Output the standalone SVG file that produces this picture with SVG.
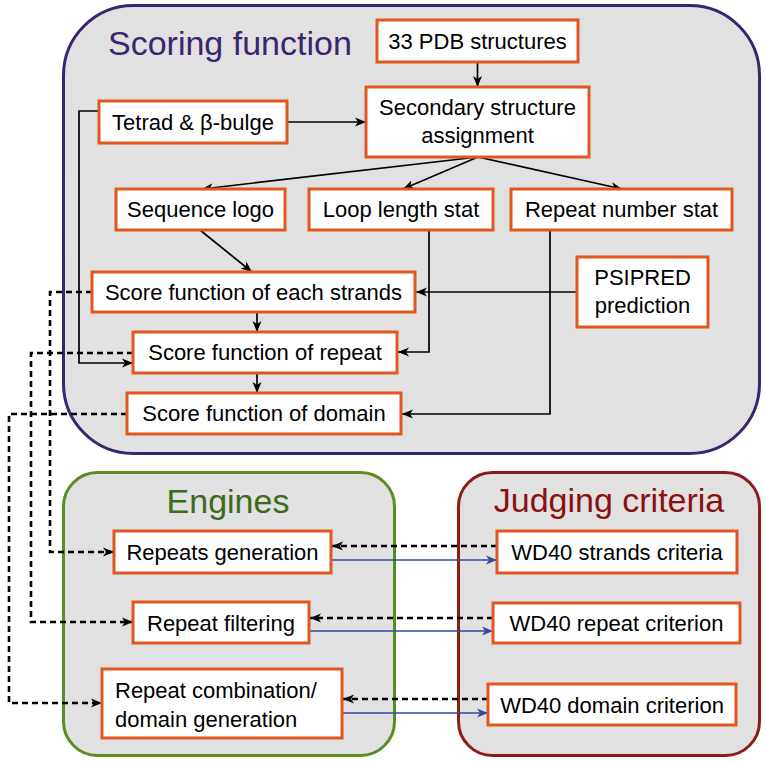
<svg xmlns="http://www.w3.org/2000/svg" width="766" height="762" viewBox="0 0 766 762">
<defs>
<marker id="ah" markerUnits="userSpaceOnUse" markerWidth="12" markerHeight="10" refX="11" refY="5" orient="auto">
<path d="M0,0.5 L11,5 L0,9.5 L3,5 z" fill="#000"/>
</marker>
<marker id="ahb" markerUnits="userSpaceOnUse" markerWidth="12" markerHeight="10" refX="11" refY="5" orient="auto">
<path d="M0,0.5 L11,5 L0,9.5 L3,5 z" fill="#2b4d9b"/>
</marker>
</defs>
<style>
.panel{fill:#e1e1e1;stroke-width:3}
.box{fill:#fff;stroke:#e2571e;stroke-width:3}
.t{font-family:"Liberation Sans",Arial,sans-serif;font-size:22px;fill:#000;text-anchor:middle}
.title{font-family:"Liberation Sans",Arial,sans-serif;font-size:34px}
.s{fill:none;stroke:#000;stroke-width:1.7;marker-end:url(#ah)}
.d{fill:none;stroke:#000;stroke-width:2.6;stroke-dasharray:6 4;marker-end:url(#ah)}
.b{fill:none;stroke:#2b4d9b;stroke-width:1.6;marker-end:url(#ahb)}
</style>
<rect width="766" height="762" fill="#fff"/>
<g id="panel-scoring">
<rect class="panel" x="63.5" y="5.5" width="696" height="448" rx="70" ry="70" stroke="#3b2470"/>
<text class="title" x="108" y="55" fill="#3b2470">Scoring function</text>
</g>
<g id="panel-engines">
<rect class="panel" x="63.5" y="472.5" width="331" height="283" rx="34" ry="34" stroke="#5b8c25"/>
<text class="title" x="228" y="513" fill="#3d6b1a" text-anchor="middle" font-size="33">Engines</text>
</g>
<g id="panel-judging">
<rect class="panel" x="458.5" y="472.5" width="301" height="283" rx="34" ry="34" stroke="#8b1c1c"/>
<text class="title" x="609" y="512" fill="#8b1010" text-anchor="middle">Judging criteria</text>
</g>
<g id="connectors">
<path class="s" d="M477.5,62 V87"/>
<path class="s" d="M287,122 H366"/>
<path class="s" d="M478,157 L202,189"/>
<path class="s" d="M478,157 L403,189"/>
<path class="s" d="M478,157 L622,189"/>
<path class="s" d="M200,230 L252,272"/>
<path class="s" d="M257,312 V332"/>
<path class="s" d="M257,373 V393"/>
<path class="s" d="M429,230 V352 H398"/>
<path class="s" d="M550,230 V414 H402"/>
<path class="s" d="M577,292 H416"/>
<path class="s" d="M99,111 H79 V363 H133"/>
<path class="d" d="M92,292 H50 V552 H114"/>
<path class="d" d="M133,353 H31 V622 H133"/>
<path class="d" d="M127,414 H9 V703 H102"/>
<path class="d" d="M497,546 H332"/>
<path class="d" d="M493,618 H310"/>
<path class="d" d="M488,699 H343"/>
<path class="b" d="M331,560 H497"/>
<path class="b" d="M309,631 H493"/>
<path class="b" d="M342,713 H488"/>
</g>
<g id="n-pdb">
<rect class="box" x="377" y="20" width="201" height="42"/>
<text class="t" x="477.5" y="49">33 PDB structures</text>
</g>
<g id="n-ssa">
<rect class="box" x="366" y="87" width="223" height="70"/>
<text class="t" x="477.5" y="115">Secondary structure</text>
<text class="t" x="477.5" y="143">assignment</text>
</g>
<g id="n-tetrad">
<rect class="box" x="99" y="101" width="188" height="42"/>
<text class="t" x="193" y="130">Tetrad &amp; β-bulge</text>
</g>
<g id="n-logo">
<rect class="box" x="116" y="189" width="169" height="41"/>
<text class="t" x="200.5" y="217">Sequence logo</text>
</g>
<g id="n-loop">
<rect class="box" x="309" y="189" width="184" height="41"/>
<text class="t" x="401" y="217">Loop length stat</text>
</g>
<g id="n-repnum">
<rect class="box" x="511" y="189" width="221" height="41"/>
<text class="t" x="621.5" y="217">Repeat number stat</text>
</g>
<g id="n-psipred">
<rect class="box" x="577" y="257" width="131" height="70"/>
<text class="t" x="642.5" y="285">PSIPRED</text>
<text class="t" x="642.5" y="313">prediction</text>
</g>
<g id="n-sf-strands">
<rect class="box" x="92" y="272" width="323" height="40"/>
<text class="t" x="253.5" y="300">Score function of each strands</text>
</g>
<g id="n-sf-repeat">
<rect class="box" x="133" y="332" width="264" height="41"/>
<text class="t" x="265" y="360">Score function of repeat</text>
</g>
<g id="n-sf-domain">
<rect class="box" x="127" y="393" width="274" height="41"/>
<text class="t" x="264" y="421">Score function of domain</text>
</g>
<g id="n-repgen">
<rect class="box" x="114" y="531" width="217" height="42"/>
<text class="t" x="222.5" y="560">Repeats generation</text>
</g>
<g id="n-repfilt">
<rect class="box" x="133" y="602" width="176" height="41"/>
<text class="t" x="221" y="631">Repeat filtering</text>
</g>
<g id="n-repcomb">
<rect class="box" x="102" y="669" width="240" height="69"/>
<text class="t" x="115" y="698" text-anchor="start" style="text-anchor:start">Repeat combination/</text>
<text class="t" x="115" y="727" style="text-anchor:start">domain generation</text>
</g>
<g id="n-crit-strands">
<rect class="box" x="497" y="531" width="240" height="42"/>
<text class="t" x="617" y="560">WD40 strands criteria</text>
</g>
<g id="n-crit-repeat">
<rect class="box" x="493" y="603" width="247" height="40"/>
<text class="t" x="616.5" y="631">WD40 repeat criterion</text>
</g>
<g id="n-crit-domain">
<rect class="box" x="488" y="684" width="248" height="41"/>
<text class="t" x="612" y="713">WD40 domain criterion</text>
</g>
</svg>
